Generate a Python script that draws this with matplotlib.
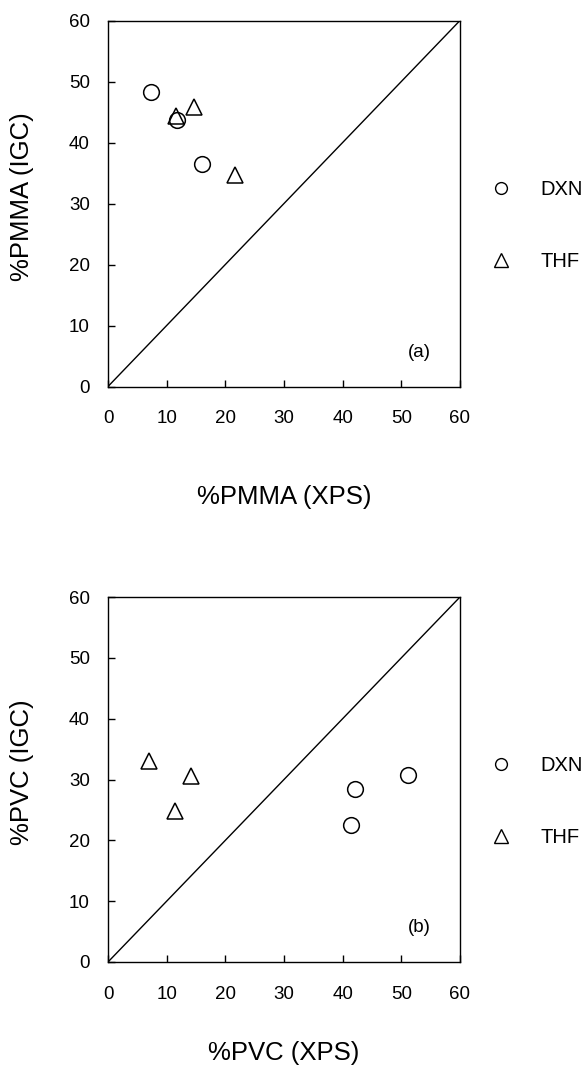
import matplotlib
matplotlib.use("Agg")
import matplotlib.pyplot as plt
from matplotlib.lines import Line2D

plt.rcParams['font.family'] = ['Liberation Sans', 'DejaVu Sans']

# Panel (a): PMMA
pmma_dxn_x = [7.3, 11.7, 16.0]
pmma_dxn_y = [48.2, 43.7, 36.4]
pmma_thf_x = [11.6, 14.7, 21.7]
pmma_thf_y = [44.4, 45.8, 34.6]

# Panel (b): PVC
pvc_dxn_x = [41.5, 42.1, 51.2]
pvc_dxn_y = [22.6, 28.5, 30.7]
pvc_thf_x = [7.0, 11.4, 14.2]
pvc_thf_y = [33.1, 24.8, 30.6]

ticks = [0, 10, 20, 30, 40, 50, 60]
series_labels = ["DXN", "THF"]

W, H = 582, 1067
fig = plt.figure(figsize=(W / 100, H / 100), dpi=100)

def make_ax(top_px, bottom_px):
    left_px, right_px = 108, 460
    return fig.add_axes([left_px / W, 1 - bottom_px / H,
                         (right_px - left_px) / W, (bottom_px - top_px) / H])

panels = [
    (make_ax(20.5, 386.5), pmma_dxn_x, pmma_dxn_y, pmma_thf_x, pmma_thf_y,
     "%PMMA (XPS)", "%PMMA (IGC)", "(a)", -0.303),
    (make_ax(597, 962), pvc_dxn_x, pvc_dxn_y, pvc_thf_x, pvc_thf_y,
     "%PVC (XPS)", "%PVC (IGC)", "(b)", -0.25),
]

for ax, dx, dy, tx, ty, xl, yl, tag, xl_y in panels:
    ax.plot([0, 60], [0, 60], color='black', lw=1.0)
    ax.plot(dx, dy, linestyle='none', marker='o', markersize=11.3,
            markerfacecolor='none', markeredgecolor='black', markeredgewidth=1.1)
    ax.plot(tx, ty, linestyle='none', marker='^', markersize=11.3,
            markerfacecolor='none', markeredgecolor='black', markeredgewidth=1.1)
    ax.set_xlim(0, 60)
    ax.set_ylim(0, 60)
    ax.set_xticks(ticks)
    ax.set_yticks(ticks)
    ax.tick_params(direction='in', length=5, width=1, labelsize=13.5)
    ax.tick_params(axis='x', pad=17)
    ax.tick_params(axis='y', pad=13)
    for s in ax.spines.values():
        s.set_linewidth(1.0)
    ax.set_xlabel(xl, fontsize=18.5, va='center')
    ax.xaxis.set_label_coords(0.5, xl_y)
    ax.set_ylabel(yl, fontsize=18.5, va='center')
    ax.yaxis.set_label_coords(-0.245, 0.52)
    ax.text(53, 5.6, tag, fontsize=13.5, ha='center', va='center')
    handles = [
        Line2D([], [], linestyle='none', marker='o', markersize=8.5,
               markerfacecolor='none', markeredgecolor='black', markeredgewidth=1.0),
        Line2D([], [], linestyle='none', marker='^', markersize=10,
               markerfacecolor='none', markeredgecolor='black', markeredgewidth=1.0),
    ]
    ax.legend(handles, series_labels, loc='center left', bbox_to_anchor=(1.066, 0.44),
              frameon=False, fontsize=14.5, labelspacing=2.6, handletextpad=1.44,
              handlelength=1.0, borderaxespad=0)

fig.savefig("out.png", dpi=100)
